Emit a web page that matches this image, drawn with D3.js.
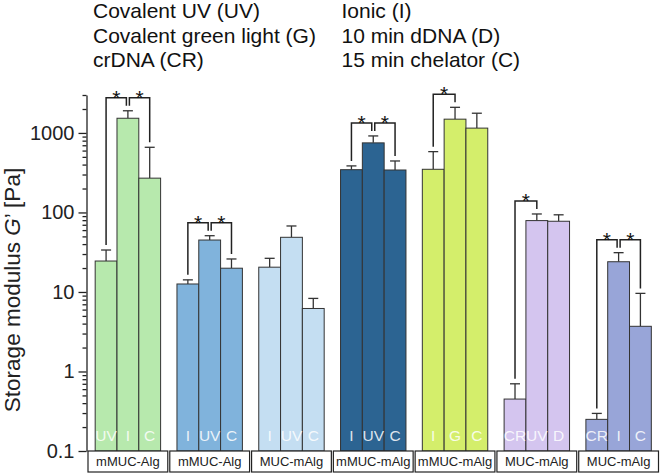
<!DOCTYPE html>
<html>
<head>
<meta charset="utf-8">
<script src="https://cdn.jsdelivr.net/npm/d3@7"></script>
<style>
  body { margin: 0; background: #fff; }
  svg { display: block; font-family: Arial, "Liberation Sans", Helvetica, sans-serif; }
</style>
</head>
<body>
<div id="chart"></div>
<script>
const groupLabels = ['mMUC-Alg', 'mMUC-Alg', 'MUC-mAlg', 'mMUC-mAlg', 'mMUC-mAlg', 'MUC-mAlg', 'MUC-mAlg'];
const barLabels = [['UV', 'I', 'C'], ['I', 'UV', 'C'], ['I', 'UV', 'C'], ['I', 'UV', 'C'], ['I', 'G', 'C'], ['CR', 'UV', 'D'], ['CR', 'I', 'C']];
const means = [[24.5, 1530, 270], [12.6, 45, 19.9], [20.5, 48.7, 6.2], [345, 750, 342], [349, 1490, 1150], [0.45, 79, 77.5], [0.25, 24, 3.7]];
const errors = [[9.2, 370, 390], [1.6, 6, 6.1], [6, 18.9, 2.1], [40, 167, 102], [233, 610, 620], [0.25, 16.7, 15.9], [0.047, 7.2, 5.9]];
// [group, bar a, bar b]
const significance = [[0, 0, 1], [0, 1, 2], [1, 0, 1], [1, 1, 2], [3, 0, 1], [3, 1, 2], [4, 0, 1], [5, 0, 1], [6, 0, 1], [6, 1, 2]];
const legendLeft = ['Covalent UV (UV)', 'Covalent green light (G)', 'crDNA (CR)'];
const legendRight = ['Ionic (I)', '10 min dDNA (D)', '15 min chelator (C)'];
const majorTicks = [0.1, 1, 10, 100, 1000];
const groupColors = ['#b7e9ad', '#80b3dc', '#c4def2', '#2c6492', '#d4ee6b', '#d4c5ef', '#98a5d8'];

const width = 661, height = 475;
const svg = d3.select('#chart').append('svg').attr('width', width).attr('height', height);

const axisX = 86.5;
const y = d3.scaleLog().domain([0.1, 3000]).range([451, 95]);
const x = d3.scaleBand().domain(d3.range(groupLabels.length)).range([87, 659.5]).paddingInner(0);
const xi = d3.scaleBand().domain([0, 1, 2]).range([x.step() * 0.1, x.step() * 0.9]).paddingInner(0);

// legend
const legend = svg.append('g').attr('font-size', '21px').attr('fill', '#111');
[[legendLeft, 93], [legendRight, 341.5]].forEach(([items, lx]) => {
  legend.selectAll(null).data(items).join('text')
    .attr('x', lx).attr('y', (d, i) => 18 + i * 24.5).text(d => d);
});

// y axis
const minorTicks = y.ticks().filter(v => !majorTicks.includes(v));
const yAxisG = svg.append('g').attr('transform', `translate(${axisX},0)`);
yAxisG.call(d3.axisLeft(y).tickValues(majorTicks).tickSize(8).tickSizeOuter(0).tickPadding(4).tickFormat(d3.format('~g')));
yAxisG.append('g').call(d3.axisLeft(y).tickValues(minorTicks).tickSize(4).tickSizeOuter(0).tickFormat(''))
  .select('.domain').remove();
yAxisG.selectAll('path, line').attr('stroke', '#222').attr('stroke-width', 1.3);
yAxisG.selectAll('text').attr('font-size', '20px').attr('fill', '#222').attr('font-family', 'Arial, "Liberation Sans", sans-serif');

// y label
svg.append('text')
  .attr('transform', 'translate(20,290) rotate(-90)')
  .attr('text-anchor', 'middle')
  .attr('font-size', '22.5px')
  .attr('fill', '#222')
  .call(t => {
    t.append('tspan').text('Storage modulus ');
    t.append('tspan').attr('font-style', 'italic').text('G');
    t.append('tspan').text('’ [Pa]');
  });

// bars
const bars = [];
means.forEach((row, g) => row.forEach((v, b) => {
  bars.push({ g, b, v, e: errors[g][b], label: barLabels[g][b] });
}));
const barX = d => x(d.g) + xi(d.b);
const barC = (g, b) => x(g) + xi(b) + xi.bandwidth() / 2;

const barG = svg.append('g');
barG.selectAll('line.err').data(bars).join('line')
  .attr('class', 'err')
  .attr('x1', d => barC(d.g, d.b)).attr('x2', d => barC(d.g, d.b))
  .attr('y1', d => y(d.v)).attr('y2', d => y(d.v + d.e))
  .attr('stroke', '#333').attr('stroke-width', 1.3);
barG.selectAll('line.cap').data(bars).join('line')
  .attr('class', 'cap')
  .attr('x1', d => barC(d.g, d.b) - 5).attr('x2', d => barC(d.g, d.b) + 5)
  .attr('y1', d => y(d.v + d.e)).attr('y2', d => y(d.v + d.e))
  .attr('stroke', '#333').attr('stroke-width', 1.3);
barG.selectAll('rect').data(bars).join('rect')
  .attr('x', barX)
  .attr('y', d => y(d.v))
  .attr('width', xi.bandwidth())
  .attr('height', d => y(0.1) - y(d.v))
  .attr('fill', d => groupColors[d.g])
  .attr('stroke', '#333').attr('stroke-width', 1);
barG.selectAll('text').data(bars).join('text')
  .attr('x', d => barC(d.g, d.b))
  .attr('y', 441)
  .attr('text-anchor', 'middle')
  .attr('font-size', '15.5px')
  .attr('fill', '#fff').attr('fill-opacity', 0.85)
  .text(d => d.label);

// significance brackets
const errTopY = (g, b) => y(means[g][b] + errors[g][b]);
const bracketTop = {};
significance.forEach(([g, a, b]) => {
  const t = Math.min(errTopY(g, a), errTopY(g, b)) - 13;
  bracketTop[g] = bracketTop[g] === undefined ? t : Math.min(bracketTop[g], t);
});
const sigG = svg.append('g');
significance.forEach(([g, a, b]) => {
  const shareLeft = significance.some(s => s[0] === g && s[2] === a);
  const shareRight = significance.some(s => s[0] === g && s[1] === b);
  const x1 = barC(g, a) + (shareLeft ? 1.5 : 0);
  const x2 = barC(g, b) - (shareRight ? 1.5 : 0);
  const top = bracketTop[g];
  sigG.append('path')
    .attr('d', `M${x1},${errTopY(g, a) - 5}V${top}H${x2}V${errTopY(g, b) - 5}`)
    .attr('fill', 'none').attr('stroke', '#222').attr('stroke-width', 1.5);
  sigG.append('text')
    .attr('x', (x1 + x2) / 2).attr('y', top + 7)
    .attr('text-anchor', 'middle').attr('font-size', '21px').attr('fill', '#111')
    .text('*');
});

// group label boxes
const boxG = svg.append('g');
boxG.selectAll('rect').data(groupLabels).join('rect')
  .attr('x', (d, i) => x(i) + 1).attr('y', 451)
  .attr('width', x.step() - 2).attr('height', 21)
  .attr('fill', '#fff').attr('stroke', '#222').attr('stroke-width', 1.2);
boxG.selectAll('text').data(groupLabels).join('text')
  .attr('x', (d, i) => x(i) + x.step() / 2).attr('y', 466)
  .attr('text-anchor', 'middle').attr('font-size', '13px').attr('fill', '#222')
  .text(d => d);
</script>
</body>
</html>
